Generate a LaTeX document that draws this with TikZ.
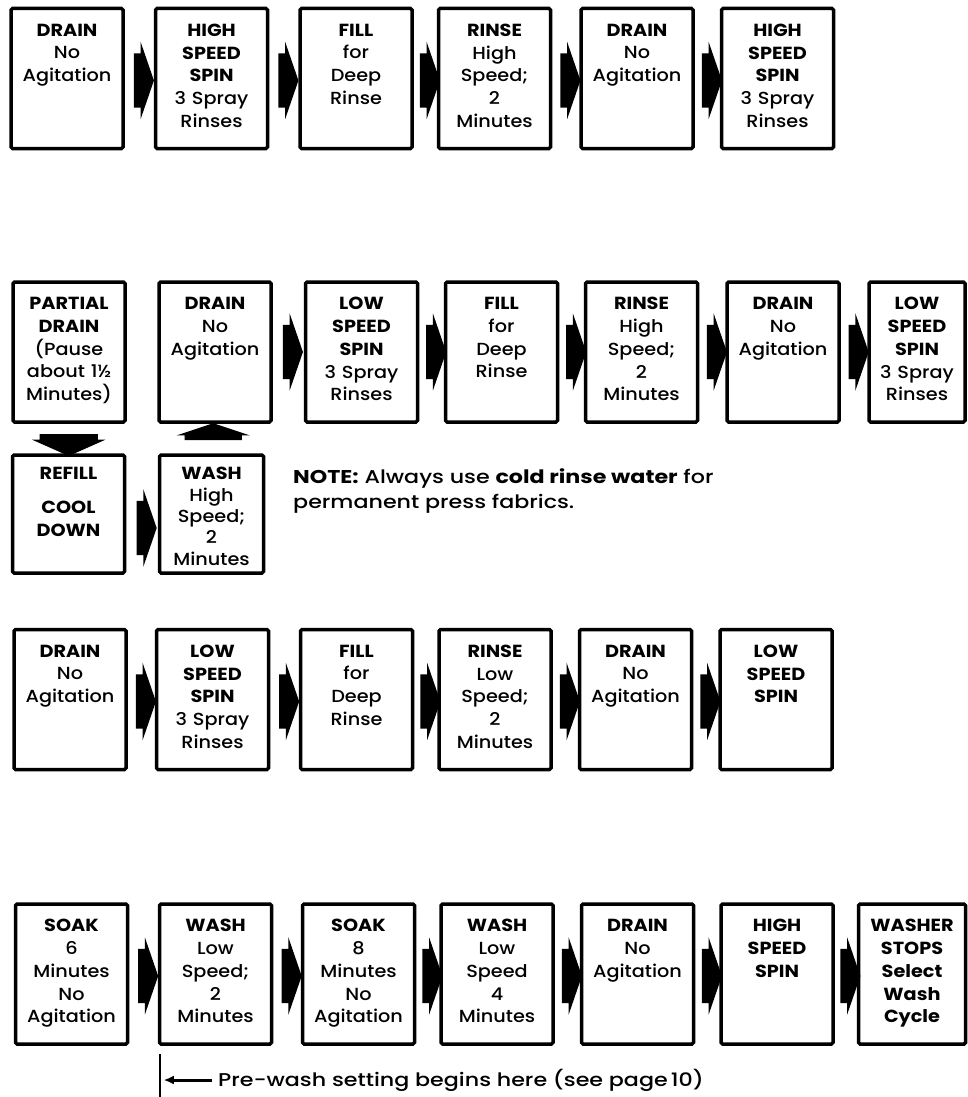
\documentclass[tikz,border=0pt]{standalone}
\usepackage{fontspec}
\setmainfont{Poppins Medium}[BoldFont={Poppins Bold}, FakeStretch=1.1]
\newfontfamily\notefont{Poppins Medium}[BoldFont={Poppins Bold}, FakeStretch=1.2]
\usepackage{tikz}
\usetikzlibrary{shapes.arrows, arrows.meta, positioning, calc}

\begin{document}
\begin{tikzpicture}[
    x=1pt, y=-1pt,
    font=\fontsize{17.5}{22.7}\selectfont,
    step_box/.style={draw=black, line width=3.5pt, rounded corners=1.5pt, minimum width=112pt, minimum height=140pt, inner sep=0pt},
    step_text/.style={anchor=north, yshift=-17pt, text width=116pt, align=center, inner sep=0pt},
    flow_arrow/.style={single arrow, fill=black, inner xsep=0pt, inner ysep=27pt, minimum height=20pt, single arrow head extend=11.5pt, single arrow tip angle=142},
    down_arrow/.style={single arrow, fill=black, rotate=-90, inner xsep=0pt, inner ysep=29pt, minimum height=22pt, single arrow head extend=7.5pt, single arrow tip angle=132},
    up_arrow/.style={single arrow, fill=black, rotate=90, inner xsep=0pt, inner ysep=28.5pt, minimum height=17pt, single arrow head extend=8pt, single arrow tip angle=143}
]
\useasboundingbox (0,0) rectangle (968,1097);

% ROW 1
\node[step_box, label={[step_text]north:{\textbf{DRAIN}\\No\\Agitation}}] (r1c1) at (67,78.5) {};
\node[step_box, label={[step_text]north:{\textbf{HIGH\\SPEED\\SPIN}\\3 Spray\\Rinses}}] (r1c2) at (211.5,78.5) {};
\node[step_box, label={[step_text]north:{\textbf{FILL}\\for\\Deep\\Rinse}}] (r1c3) at (356,78.5) {};
\node[step_box, label={[step_text]north:{\textbf{RINSE}\\High\\Speed;\\2\\Minutes}}] (r1c4) at (494.5,78.5) {};
\node[step_box, label={[step_text]north:{\textbf{DRAIN}\\No\\Agitation}}] (r1c5) at (637,78.5) {};
\node[step_box, label={[step_text]north:{\textbf{HIGH\\SPEED\\SPIN}\\3 Spray\\Rinses}}] (r1c6) at (777.5,78.5) {};
\foreach \a/\b in {1/2,2/3,3/4,4/5,5/6} {
    \node[flow_arrow] (r1a\a) at ($(r1c\a.east)!0.5!(r1c\b.west)+(0,2)$) {};
}

% ROW 2
\node[step_box, label={[step_text]north:{\textbf{PARTIAL\\DRAIN}\\(Pause\\about 1½\\Minutes)}}] (r2c1) at (69,352) {};
\node[step_box, label={[step_text]north:{\textbf{DRAIN}\\No\\Agitation}}] (r2c2) at (215,352) {};
\node[step_box, label={[step_text]north:{\textbf{LOW\\SPEED\\SPIN}\\3 Spray\\Rinses}}] (r2c3) at (361.5,352) {};
\node[step_box, label={[step_text]north:{\textbf{FILL}\\for\\Deep\\Rinse}}] (r2c4) at (501.5,352) {};
\node[step_box, label={[step_text]north:{\textbf{RINSE}\\High\\Speed;\\2\\Minutes}}] (r2c5) at (641.5,352) {};
\node[step_box, label={[step_text]north:{\textbf{DRAIN}\\No\\Agitation}}] (r2c6) at (783,352) {};
\node[step_box, minimum width=96pt, label={[step_text]north:{\textbf{LOW\\SPEED\\SPIN}\\3 Spray\\Rinses}}] (r2c7) at (917,352) {};
\foreach \a/\b in {2/3,3/4,4/5,5/6,6/7} {
    \node[flow_arrow] (r2a\a) at ($(r2c\a.east)!0.5!(r2c\b.west)$) {};
}

% COOL DOWN LOOP
\node[step_box, minimum height=118pt, label={[step_text, yshift=3pt]north:{\textbf{REFILL}\\[11pt]\textbf{COOL\\DOWN}}}] (cool) at (68.5,514) {};
\node[step_box, minimum width=104pt, minimum height=118pt, label={[step_text, yshift=3pt, font=\fontsize{17.5}{21.3}\selectfont]north:{\textbf{WASH}\\High\\Speed;\\2\\Minutes}}] (wash) at (211.5,514) {};
\node[down_arrow] (to_cool) at ($(r2c1.south)!0.5!(cool.north)$) {};
\node[up_arrow] (to_drain) at ($(wash.north)!0.5!(r2c2.south)+(0,-2)$) {};
\node[flow_arrow] (to_wash) at ($(cool.east)!0.5!(wash.west)+(0,14)$) {};
\node[anchor=north west, align=left, inner sep=0pt, font=\notefont\fontsize{18.5}{25}\selectfont] (note) at (293,468)
    {\textbf{NOTE:} Always use \textbf{cold rinse water} for\\permanent press fabrics.};

% ROW 3
\node[step_box, label={[step_text]north:{\textbf{DRAIN}\\No\\Agitation}}] (r3c1) at (70,699.5) {};
\node[step_box, label={[step_text]north:{\textbf{LOW\\SPEED\\SPIN}\\3 Spray\\Rinses}}] (r3c2) at (212.5,699.5) {};
\node[step_box, label={[step_text]north:{\textbf{FILL}\\for\\Deep\\Rinse}}] (r3c3) at (356.5,699.5) {};
\node[step_box, label={[step_text]north:{\textbf{RINSE}\\Low\\Speed;\\2\\Minutes}}] (r3c4) at (495,699.5) {};
\node[step_box, label={[step_text]north:{\textbf{DRAIN}\\No\\Agitation}}] (r3c5) at (635.5,699.5) {};
\node[step_box, label={[step_text]north:{\textbf{LOW\\SPEED\\SPIN}}}] (r3c6) at (776,699.5) {};
\foreach \a/\b in {1/2,2/3,3/4,4/5,5/6} {
    \node[flow_arrow] (r3a\a) at ($(r3c\a.east)!0.5!(r3c\b.west)+(0,2)$) {};
}

% ROW 4
\node[step_box, label={[step_text]north:{\textbf{SOAK}\\6\\Minutes\\No\\Agitation}}] (r4c1) at (71.5,974) {};
\node[step_box, label={[step_text]north:{\textbf{WASH}\\Low\\Speed;\\2\\Minutes}}] (r4c2) at (215.5,974) {};
\node[step_box, label={[step_text]north:{\textbf{SOAK}\\8\\Minutes\\No\\Agitation}}] (r4c3) at (358.5,974) {};
\node[step_box, label={[step_text]north:{\textbf{WASH}\\Low\\Speed\\4\\Minutes}}] (r4c4) at (497,974) {};
\node[step_box, label={[step_text]north:{\textbf{DRAIN}\\No\\Agitation}}] (r4c5) at (637.5,974) {};
\node[step_box, label={[step_text]north:{\textbf{HIGH\\SPEED\\SPIN}}}] (r4c6) at (777,974) {};
\node[step_box, minimum width=107pt, label={[step_text]north:{\textbf{WASHER\\STOPS\\Select\\Wash\\Cycle}}}] (r4c7) at (912,974) {};
\foreach \a/\b in {1/2,2/3,3/4,4/5,5/6,6/7} {
    \node[flow_arrow] (r4a\a) at ($(r4c\a.east)!0.5!(r4c\b.west)+(0,2)$) {};
}

% PRE-WASH MARK
\coordinate (mark_top) at ($(r4c2.south west)+(2,8)$);
\coordinate (mark_bot) at (mark_top |- 0,1100);
\draw[line width=2.5pt] (mark_top) -- (mark_bot);
\node[anchor=west, inner sep=0pt, font=\notefont\fontsize{18.5}{25}\selectfont] (prewash) at (218,1080) {Pre-wash setting begins here (see page\,10)};
\draw[-{Latex[length=10pt,width=9pt]}, line width=3pt, shorten >=4pt, shorten <=6pt] (prewash.west) -- (prewash.west -| mark_top);

\end{tikzpicture}
\end{document}
